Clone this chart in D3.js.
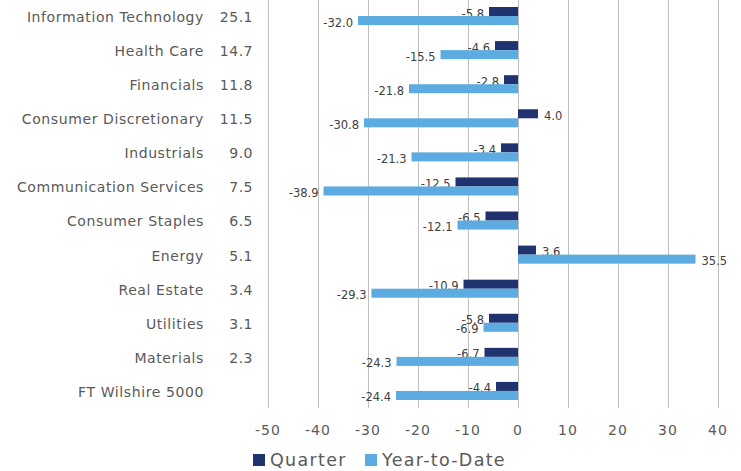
<!DOCTYPE html>
<html>
<head>
<meta charset="utf-8">
<script src="https://cdn.jsdelivr.net/npm/d3@7"></script>
<style>
  body { margin: 0; background: #fff; }
  svg text { font-family: "DejaVu Sans", sans-serif; }
</style>
</head>
<body>
<div class="container"></div>
<script>
const categories = ['Information Technology', 'Health Care', 'Financials', 'Consumer Discretionary',
    'Industrials', 'Communication Services', 'Consumer Staples', 'Energy', 'Real Estate',
    'Utilities', 'Materials', 'FT Wilshire 5000'];
const weights = ['25.1', '14.7', '11.8', '11.5', '9.0', '7.5', '6.5', '5.1', '3.4', '3.1', '2.3', ''];
const quarter = [-5.8, -4.6, -2.8, 4.0, -3.4, -12.5, -6.5, 3.6, -10.9, -5.8, -6.7, -4.4];
const ytd = [-32.0, -15.5, -21.8, -30.8, -21.3, -38.9, -12.1, 35.5, -29.3, -6.9, -24.3, -24.4];
const xTicks = [-50, -40, -30, -20, -10, 0, 10, 20, 30, 40];
const seriesNames = ['Quarter', 'Year-to-Date'];

const width = 741, height = 471,
    margin = {top: -1, bottom: 408, left: 268, right: 718},
    colors = ['#21336f', '#5dace1'];

const svg = d3.select('.container')
    .append('svg')
    .attr('width', width)
    .attr('height', height);

const xScale = d3.scaleLinear()
    .domain([-50, 40])
    .range([margin.left, margin.right]);

const yScale = d3.scaleBand()
    .domain(categories)
    .range([margin.top, margin.bottom])
    .paddingInner(0.47)
    .paddingOuter(0.235);

const ySub = d3.scaleBand()
    .domain([0, 1])
    .range([0, yScale.bandwidth()]);

// gridlines
svg.append('g')
    .selectAll('line')
    .data(xTicks)
    .join('line')
    .attr('x1', d => xScale(d) + 0.5)
    .attr('x2', d => xScale(d) + 0.5)
    .attr('y1', 0)
    .attr('y2', 408)
    .attr('stroke', '#bfbfbf')
    .attr('stroke-width', 1);

// x tick labels
svg.append('g')
    .selectAll('text')
    .data(xTicks)
    .join('text')
    .attr('x', d => xScale(d))
    .attr('y', 435)
    .attr('text-anchor', 'middle')
    .attr('font-size', 14)
    .attr('letter-spacing', 1)
    .attr('fill', '#595959')
    .text(d => d);

// category labels + weights
const rowCenter = c => yScale(c) - yScale.step() * 0.235 + yScale.step() / 2 + 1;

svg.append('g')
    .selectAll('text')
    .data(categories)
    .join('text')
    .attr('x', 204)
    .attr('y', d => rowCenter(d))
    .attr('dy', '0.35em')
    .attr('text-anchor', 'end')
    .attr('font-size', 14)
    .attr('letter-spacing', 0.6)
    .attr('fill', '#595959')
    .text(d => d);

svg.append('g')
    .selectAll('text')
    .data(weights)
    .join('text')
    .attr('x', 253)
    .attr('y', (d, i) => rowCenter(categories[i]))
    .attr('dy', '0.35em')
    .attr('text-anchor', 'end')
    .attr('font-size', 14)
    .attr('letter-spacing', 0.5)
    .attr('fill', '#595959')
    .text(d => d);

// bars
[quarter, ytd].forEach((series, s) => {
    const g = svg.append('g');
    g.selectAll('rect')
        .data(series)
        .join('rect')
        .attr('x', d => xScale(Math.min(0, d)))
        .attr('width', d => Math.abs(xScale(d) - xScale(0)))
        .attr('y', (d, i) => yScale(categories[i]) + ySub(s))
        .attr('height', ySub.bandwidth())
        .attr('fill', colors[s]);

    g.selectAll('text')
        .data(series)
        .join('text')
        .attr('x', d => d < 0 ? xScale(d) - 5 : xScale(d) + 6)
        .attr('y', (d, i) => yScale(categories[i]) + ySub(s) + ySub.bandwidth() / 2 + 2)
        .attr('dy', '0.35em')
        .attr('text-anchor', d => d < 0 ? 'end' : 'start')
        .attr('font-family', '"Liberation Sans Narrow", "Liberation Sans", sans-serif')
        .attr('font-size', 11.5)
        .attr('fill', '#404040')
        .text(d => d.toFixed(1));
});

// legend
const legendX = [253, 365];
const legend = svg.append('g');
seriesNames.forEach((name, i) => {
    legend.append('rect')
        .attr('x', legendX[i])
        .attr('y', 454)
        .attr('width', 12)
        .attr('height', 12)
        .attr('fill', colors[i]);
    legend.append('text')
        .attr('x', legendX[i] + 17)
        .attr('y', 460)
        .attr('dy', '0.35em')
        .attr('font-size', 17.5)
        .attr('letter-spacing', 1.3)
        .attr('fill', '#595959')
        .text(name);
});
</script>
</body>
</html>
